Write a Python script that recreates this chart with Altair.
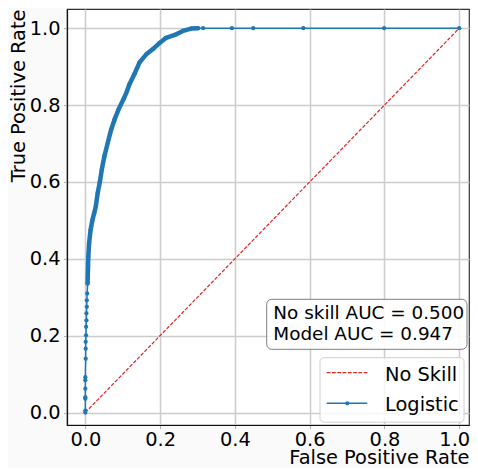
import altair as alt
import pandas as pd

# ---- data ----
fpr = [0.0, 0.0, 0.0, 0.0, 0.0, 0.0, 0.0, 0.001, 0.001, 0.001, 0.002, 0.002,
       0.003, 0.003, 0.004, 0.004, 0.005, 0.006, 0.007, 0.008, 0.010, 0.014,
       0.019, 0.024, 0.028, 0.033, 0.039, 0.044, 0.051, 0.060, 0.069, 0.078,
       0.089, 0.102, 0.111, 0.118, 0.131, 0.145, 0.163, 0.180, 0.198, 0.216,
       0.243, 0.261, 0.283, 0.301, 0.315, 0.392, 0.449, 0.583, 0.799, 1.0]
tpr = [0.0, 0.005, 0.036, 0.040, 0.062, 0.084, 0.092, 0.140, 0.166, 0.184,
       0.201, 0.223, 0.240, 0.258, 0.275, 0.292, 0.310, 0.336, 0.371, 0.405,
       0.440, 0.475, 0.501, 0.520, 0.536, 0.571, 0.601, 0.632, 0.667, 0.702,
       0.736, 0.762, 0.789, 0.815, 0.835, 0.854, 0.880, 0.911, 0.932, 0.945,
       0.961, 0.975, 0.984, 0.993, 0.999, 1.0, 1.0, 1.0, 1.0, 1.0, 1.0, 1.0]
skill_fpr = [0.0, 1.0]
skill_tpr = [0.0, 1.0]
x_ticks = [0.0, 0.2, 0.4, 0.6, 0.8, 1.0]
y_ticks = [0.0, 0.2, 0.4, 0.6, 0.8, 1.0]
legend_labels = ["No Skill", "Logistic"]
auc_lines = ["No skill AUC = 0.500", "Model AUC = 0.947"]

roc = pd.DataFrame({"fpr": fpr, "tpr": tpr})
skill = pd.DataFrame({"fpr": skill_fpr, "tpr": skill_tpr})
one = pd.DataFrame({"k": [0]})

W, H = 402, 416
FONT = "DejaVu Sans"
BLUE = "#1f77b4"
RED = "#e02424"

xs = alt.Scale(domain=[-0.049, 1.026], nice=False, zero=False)
ys = alt.Scale(domain=[-0.0325, 1.05], nice=False, zero=False)

xaxis = alt.Axis(values=x_ticks, format=".1f", title="False Positive Rate",
                 titleX=W, titleY=38.5, titleAlign="right", titleBaseline="alphabetic",
                 titleAngle=0, labelPadding=2, tickSize=3.5,
                 labelOffset={"condition": {"test": "datum.value >= 1", "value": -5}, "value": 0})
yaxis = alt.Axis(values=y_ticks, format=".1f", title="True Positive Rate",
                 titleX=-43, titleY=0, titleAngle=270, titleAlign="right",
                 titleBaseline="alphabetic", labelPadding=3.5, tickSize=3.5)

X = alt.X("fpr:Q", scale=xs, axis=xaxis)
Y = alt.Y("tpr:Q", scale=ys, axis=yaxis)

skill_line = alt.Chart(skill).mark_line(
    color=RED, strokeWidth=1.2, strokeDash=[3.7, 1.6]
).encode(x=X, y=Y)

roc_line = alt.Chart(roc).mark_line(color=BLUE, strokeWidth=1.5).encode(x=X, y=Y)
roc_band = alt.Chart(roc).transform_filter(
    (alt.datum.tpr >= 0.33) & (alt.datum.fpr <= 0.302)
).mark_line(color=BLUE, strokeWidth=4.5, strokeCap="round", strokeJoin="round").encode(x=X, y=Y)
roc_pts = alt.Chart(roc).mark_circle(color=BLUE, size=18, opacity=1).encode(x=X, y=Y)

# AUC annotation box
auc_box = alt.Chart(one).mark_rect(
    fill="white", fillOpacity=0.9, stroke="#7f7f7f", strokeWidth=1, cornerRadius=5
).encode(x=alt.value(199.7), x2=alt.value(400), y=alt.value(290.3), y2=alt.value(340.3))
auc_t1 = alt.Chart(one).mark_text(
    text=auc_lines[0], font=FONT, fontSize=18.4, align="left", baseline="alphabetic", color="black"
).encode(x=alt.value(206.3), y=alt.value(310.3))
auc_t2 = alt.Chart(one).mark_text(
    text=auc_lines[1], font=FONT, fontSize=18.4, align="left", baseline="alphabetic", color="black"
).encode(x=alt.value(206.3), y=alt.value(331))

# legend
leg_box = alt.Chart(one).mark_rect(
    fill="white", fillOpacity=0.8, stroke="#d0d0d0", strokeWidth=1, cornerRadius=4
).encode(x=alt.value(253), x2=alt.value(397), y=alt.value(348.7), y2=alt.value(413.2))
leg_skill = alt.Chart(one).mark_rule(color=RED, strokeWidth=1.2, strokeDash=[3.7, 1.6]).encode(
    x=alt.value(259.7), x2=alt.value(300.3), y=alt.value(363.7))
leg_log = alt.Chart(one).mark_rule(color=BLUE, strokeWidth=1.5).encode(
    x=alt.value(259.7), x2=alt.value(300.3), y=alt.value(394.3))
leg_dot = alt.Chart(one).mark_circle(color=BLUE, size=18, opacity=1).encode(
    x=alt.value(280.3), y=alt.value(394.3))
leg_t1 = alt.Chart(one).mark_text(
    text=legend_labels[0], font=FONT, fontSize=19.4, align="left", baseline="alphabetic", color="black"
).encode(x=alt.value(318), y=alt.value(371.7))
leg_t2 = alt.Chart(one).mark_text(
    text=legend_labels[1], font=FONT, fontSize=19.4, align="left", baseline="alphabetic", color="black"
).encode(x=alt.value(318), y=alt.value(401.7))

chart = alt.layer(
    skill_line, roc_line, roc_band, roc_pts,
    auc_box, auc_t1, auc_t2,
    leg_box, leg_skill, leg_log, leg_dot, leg_t1, leg_t2,
).properties(
    width=W, height=H,
    autosize=alt.AutoSizeParams(type="none"),
    padding={"left": 59, "top": 1, "right": 1, "bottom": 43},
    background="#fafafa",
).configure_view(
    fill="white", stroke="#333333", strokeWidth=1.2
).configure_axis(
    grid=True, gridColor="#cccccc", gridWidth=1.5,
    tickColor="#b0b0b0", tickWidth=1,
    domainColor="#111111", domainWidth=1.2,
    labelFont=FONT, labelFontSize=19.4, labelColor="black",
    titleFont=FONT, titleFontSize=19.4, titleFontWeight="normal", titleColor="black",
)

chart.save("out.html", embed_options={"renderer": "svg", "actions": False})
